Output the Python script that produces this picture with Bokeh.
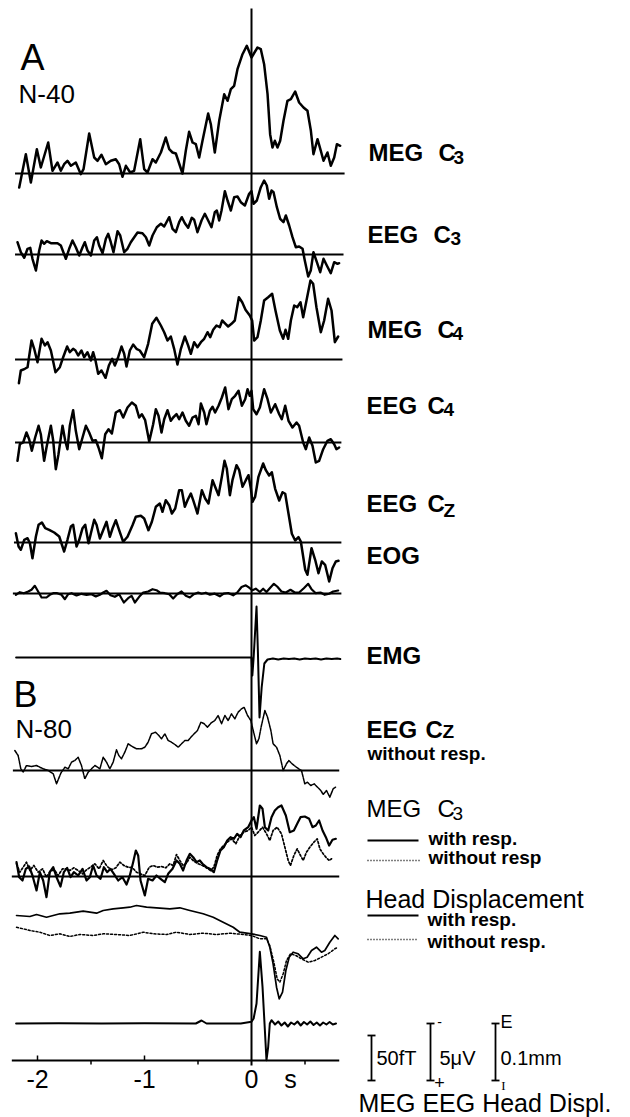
from bokeh.plotting import figure
from bokeh.models import Range1d, ColumnDataSource
from bokeh.embed import file_html
from bokeh.resources import INLINE
from bokeh.core.properties import value

# ---------------------------------------------------------------------------
# DATA  (time: ms relative to response onset; values: deflection in plot
# units, upward positive -- 45 units = 50 fT, 57 units = 5 uV / 0.1 mm)
# ---------------------------------------------------------------------------
meg_c3_a_t = [-2171, -2109, -2062, -2006, -1969, -1900, -1860, -1813, -1782, -1751,
              -1720, -1688, -1642, -1595, -1570, -1517, -1470, -1439, -1402, -1361,
              -1315, -1268, -1237, -1206, -1174, -1134, -1097, -1040, -1003, -972,
              -925, -894, -847, -801, -769, -738, -707, -645, -614, -583,
              -551, -520, -489, -458, -405, -380, -343, -302, -255, -224,
              -193, -162, -131, -84, -44, 0, 56, 87, 118, 150,
              174, 196, 218, 243, 268, 299, 336, 368, 408, 445,
              486, 523, 555, 579, 617, 648, 673, 710, 741, 773,
              798, 829]
meg_c3_a_v = [-14, 19.3, -9, 24.3, 6, 31, 2.7, 11, 2.7, 9.3,
              12.7, 7.7, 11, -0.7, 4.3, 40, 16, 12.7, 18.7, 9.3,
              12.7, 14.3, 9.3, -3.3, 7.7, 1, 2.7, 34.3, 4.3, 1,
              14.3, 11, 21, 36, 24.3, 21, 20, 0, 22.7, 41.7,
              31, 29.3, 16, 32.7, 60, 49.3, 21, 52.7, 79.3, 72.7,
              84.3, 87.7, 104.3, 119.3, 127.7, 116, 126, 124.3, 109.3, 79.3,
              39.3, 26, 32.7, 26, 32.7, 52.7, 72.7, 74.3, 82, 71,
              66, 62.7, 42.7, 19.3, 34.3, 22.7, 12.7, 21, 7.7, 16,
              29.3, 27.7]

eeg_c3_a_t = [-2187, -2156, -2124, -2093, -2068, -2047, -2015, -1984, -1962, -1938,
              -1913, -1875, -1813, -1782, -1735, -1704, -1673, -1642, -1610, -1579,
              -1558, -1533, -1501, -1470, -1445, -1424, -1392, -1361, -1339, -1315,
              -1290, -1252, -1227, -1190, -1159, -1128, -1096, -1065, -1019, -987,
              -956, -925, -885, -847, -816, -769, -738, -707, -676, -651,
              -623, -592, -558, -536, -505, -467, -436, -405, -374, -343,
              -324, -302, -280, -249, -224, -193, -162, -131, -100, -62,
              -22, 0, 19, 50, 87, 118, 143, 165, 187, 206,
              237, 268, 299, 321, 352, 383, 414, 445, 477, 498,
              530, 554, 579, 611, 642, 673, 704, 741, 773, 804,
              819]
eeg_c3_a_v = [12.3, 2.3, -3.3, 5.7, 6.7, -4.3, -16, 4, 14, 10.7,
              13.3, 11.3, 11.3, 9, -4.3, 5.7, 14, 7.3, -1, 7.3,
              12.3, 4, -1, 14, 17.3, 9, 1.3, 15.7, 20.7, 12.3,
              2.3, 23.3, 19, 2.3, 5.7, 12.3, 17.3, 22, 21.3, 17.3,
              9, 19, 27.3, 30.7, 28, 37.3, 25.7, 22.3, 32.3, 37.3,
              31.3, 26.7, 36.7, 34.7, 22.3, 34, 40.7, 34, 27.3, 42.3,
              44, 34, 44, 63.3, 54, 44, 57.3, 58, 52.3, 49,
              60.7, 63.3, 50.7, 54, 67.3, 74, 69, 55.7, 64, 62.3,
              47.3, 35.7, 32.3, 39, 29, 17.3, 7.3, 8, 5.7, -6,
              -22, -16, 2.3, -7.7, -17.7, -4.3, -11, -18.7, -7.7, -9.3,
              -8.7]

meg_c4_a_t = [-2174, -2156, -2118, -2093, -2056, -2031, -2000, -1962, -1931, -1906,
              -1875, -1832, -1791, -1760, -1723, -1698, -1667, -1645, -1620, -1589,
              -1564, -1533, -1501, -1480, -1458, -1433, -1402, -1364, -1333, -1302,
              -1277, -1246, -1215, -1190, -1168, -1137, -1106, -1075, -1044, -1003,
              -966, -928, -888, -847, -816, -785, -754, -723, -692, -660,
              -623, -592, -567, -536, -505, -473, -442, -411, -386, -358,
              -327, -296, -274, -243, -218, -187, -156, -118, -87, -56,
              -16, 6, 25, 56, 87, 118, 156, 193, 224, 265,
              296, 318, 343, 368, 399, 427, 458, 483, 514, 551,
              576, 607, 648, 679, 716, 748, 779, 810]
meg_c4_a_v = [-23.7, -11, -9.3, -7.7, 19, 10.7, -2.7, 20.7, 14, 17.3,
              9, -12.7, -7.7, 2.3, 13, 7.3, 10.7, 9, 4, 9,
              2.3, 7.3, -1, 7.3, -1, -14.3, -11, -18.3, -6, 0.7,
              -6, 2.3, 13, 5.7, -7, 9, 15, 10.7, 9, 2.3,
              15.7, 35.7, 41.7, 34, 27.3, 19, 23, 10.7, -5, 10.7,
              23, 14, 5.7, 17.3, 12.3, 17.3, 20.7, 27.3, 22.3, 29.7,
              34, 32.3, 39, 35.7, 33, 35.7, 39, 62.3, 57.3, 49.7,
              44, 39, 19, 22.3, 39, 59, 62.3, 65.7, 49, 29,
              20.7, 29.7, 20.7, 39, 54, 52.3, 57.3, 42.3, 59, 79,
              75.7, 52.3, 27.3, 39, 60.7, 49, 17.3, 23]

eeg_c4_a_t = [-2187, -2165, -2134, -2103, -2078, -2053, -2022, -1990, -1969, -1938,
              -1916, -1875, -1853, -1829, -1804, -1766, -1741, -1720, -1698, -1667,
              -1642, -1610, -1579, -1548, -1517, -1486, -1455, -1430, -1399, -1367,
              -1336, -1305, -1268, -1230, -1199, -1159, -1118, -1081, -1050, -1025,
              -994, -956, -919, -894, -869, -841, -816, -785, -754, -732,
              -701, -676, -645, -614, -583, -551, -520, -495, -473, -442,
              -421, -389, -364, -340, -308, -277, -246, -215, -184, -153,
              -121, -90, -59, -37, -16, 0, 16, 47, 78, 118,
              150, 181, 221, 259, 283, 315, 346, 383, 421, 445,
              483, 508, 539, 570, 601, 632, 670, 710, 741, 773,
              794, 819]
eeg_c4_a_v = [-18.3, -1.7, 0, 10, 3.3, -8.3, 5, 16.7, 8.3, -18.3,
              -5, 16.7, 1.7, -26.7, -11.7, 16.7, 1.7, -6.7, 16.7, 32.3,
              11.7, -6.7, 5, 16.7, 10, 1.7, 2.3, -5, -15.7, 8.3,
              13.3, 9, 30, 32.3, 25, 35, 40, 36.7, 25, 28.3,
              22.3, 1, 18.3, 33.3, 26.7, 10, 23.3, 32.3, 21.7, 25,
              28.3, 23.3, 30, 21.7, 16.7, 25, 26.7, 18.3, 39, 30,
              18.3, 31.7, 35.7, 30, 36.7, 45, 55, 33.3, 43.3, 46.7,
              51.7, 36.7, 43.3, 53.3, 46.7, 51.7, 33.3, 28.3, 35, 53.3,
              43.3, 30, 38.3, 28.3, 23.3, 36.7, 21.7, 15, 20, 16.7,
              0, -6.7, 5, -3.3, -20, -18.3, -6.7, 1.7, 3.3, -1.7,
              -6.7, -5]

eeg_cz_a_t = [-2202, -2177, -2156, -2124, -2093, -2071, -2047, -2015, -1990, -1959,
              -1928, -1891, -1844, -1797, -1751, -1720, -1688, -1667, -1635, -1610,
              -1579, -1554, -1523, -1501, -1470, -1448, -1417, -1392, -1355, -1324,
              -1299, -1268, -1237, -1199, -1159, -1112, -1081, -1034, -1003, -963,
              -931, -894, -857, -832, -801, -769, -744, -713, -676, -651,
              -623, -598, -567, -545, -505, -464, -433, -402, -364, -340,
              -308, -277, -252, -231, -202, -178, -140, -115, -84, -53,
              -28, -6, 9, 34, 65, 109, 134, 165, 190, 221,
              259, 290, 315, 346, 377, 408, 439, 461, 502, 523,
              561, 595, 626, 657, 688, 726, 757, 788, 813]
eeg_cz_a_v = [9.3, -4, -7.3, 2.7, 4.3, -0.7, -15.7, 6, 17.7, 20,
              14.3, 12.7, 10, 6, -9, 2.7, 16, 17.7, -4, 2.7,
              14.3, 17.7, -0.7, 9.3, 22.7, 17.7, 4, 10.7, 20.7, 5.7,
              14, 22.3, 12.3, 0.7, 5.7, 17.3, 25.7, 26.7, 24, 12.3,
              20.7, 35.7, 39, 30.7, 42.3, 37.3, 29, 34, 52.3, 52.3,
              35.7, 42.3, 49, 42.3, 29, 52.3, 44, 39, 62.3, 55.7,
              47.3, 65.7, 81.7, 74, 47.3, 62.3, 77.3, 72.3, 55.7, 62.3,
              67.3, 54, 40.7, 45.7, 65.7, 79, 72.3, 67, 70.3, 53.7,
              42, 50.3, 48.7, 28.7, 8.7, 2, 5.3, 1, -27.3, -32.3,
              -5.7, -17.3, -30.7, -19, -22.3, -39, -25.7, -19, -18.3]

eog_t = [-2202, -2165, -2128, -2087, -2056, -2025, -1994, -1962, -1916, -1885,
         -1853, -1816, -1776, -1744, -1713, -1682, -1635, -1589, -1542, -1495,
         -1455, -1417, -1386, -1355, -1318, -1277, -1237, -1193, -1153, -1121,
         -1090, -1050, -1012, -966, -925, -888, -857, -810, -769, -732,
         -695, -654, -614, -576, -539, -498, -467, -427, -389, -343,
         -296, -259, -218, -171, -134, -93, -53, -22, 9, 40,
         78, 109, 140, 171, 209, 240, 280, 321, 364, 405,
         445, 489, 530, 561, 601, 645, 685, 726, 763, 810]
eog_v = [-1.3, 1.3, 0.3, 2, 3.7, 7.7, 2, -4, -4, -1.3,
         0.3, 0.3, -1.3, -5.7, -0.7, 0.3, -2, -0.3, -1.3, -0.7,
         -3, -1.3, 1, 2.7, -1.7, -3.3, -0.7, -9, -4.7, -2.3,
         -9, -3.3, 1, 2, 4.3, 3.3, 1, 0.3, -0.7, -5,
         -0.7, 2, -2.3, -4, -0.7, 1, -0.2, 0.8, -1.2, -0.2,
         -2.8, -0.2, 0.5, -1.8, 0.8, 6.5, 8.2, 5.8, 3.2, 4.8,
         1.5, 4.8, 1.5, 5.3, 9.7, 7, 2, 1, 3.7, 1,
         1, 5.3, 9.7, 4.3, 0.3, 1, -1.3, -0.3, 2, 3]

emg_a_t = [-2200, -10, 0, 8, 20, 47, 60, 75, 95, 120,
           150, 200, 250, 300, 350, 400, 450, 500, 550, 600,
           650, 700, 750, 800, 830]
emg_a_v = [0, 0, 0, -18, 0, 51, 5, -60, -30, -6,
           -2, -1, -2, -1, -1.5, -1, -2, -1, -1.5, -1,
           -2, -1, -1.5, -1, -1.5]

eeg_cz_b_t = [-2212, -2181, -2156, -2134, -2103, -2056, -2009, -1978, -1947, -1900,
              -1853, -1822, -1782, -1744, -1713, -1682, -1651, -1620, -1589, -1558,
              -1526, -1495, -1464, -1417, -1386, -1355, -1324, -1293, -1262, -1240,
              -1215, -1184, -1153, -1115, -1075, -1028, -997, -966, -935, -897,
              -866, -841, -810, -779, -748, -716, -685, -654, -623, -592,
              -567, -536, -505, -473, -442, -411, -380, -343, -312, -280,
              -249, -218, -187, -156, -125, -93, -69, -37, -6, 16,
              47, 69, 93, 125, 150, 181, 202, 234, 265, 296,
              327, 349, 380, 411, 442, 467, 498, 523, 554, 586,
              617, 648, 670, 701, 732, 763, 785]
eeg_cz_b_v = [20, 15, 1.7, -1.7, 5, 4, 5, 3.3, 1.7, 0,
              -3.3, -13.3, -2.7, 3.3, 1.7, 8.3, 10, 13.3, 5, -8.3,
              -1.7, 1.7, 5, 1.7, 13.3, 8.3, 1.7, 8.3, 20.7, 15,
              11.7, 18.3, 26.7, 24, 21.7, 21.7, 23.3, 28.3, 36.7, 38.3,
              35, 31.7, 36.7, 30, 28.3, 26, 23.3, 26.7, 30, 30,
              33.3, 36.7, 40, 48.3, 46.7, 43.3, 47.3, 50, 55, 46.7,
              55, 50, 56.7, 51.7, 58.3, 61.7, 63.3, 55, 50, 40,
              26.7, 31.7, 45, 60, 53.3, 40, 26.7, 23.3, 15, 0,
              6.7, 10, 6.7, 4, 1.7, 0, -13.3, -11.7, -15, -13.3,
              -16.7, -20, -24, -20, -26.7, -18.3, -16.7]

meg_c3_b_with_t = [-2196, -2171, -2140, -2109, -2078, -2047, -2009, -1978, -1947, -1916,
                   -1885, -1853, -1822, -1785, -1754, -1723, -1691, -1660, -1620, -1579,
                   -1542, -1511, -1480, -1448, -1411, -1380, -1349, -1318, -1286, -1246,
                   -1206, -1168, -1137, -1106, -1081, -1059, -1037, -997, -966, -925,
                   -888, -850, -810, -779, -738, -701, -670, -639, -607, -576,
                   -545, -514, -483, -458, -421, -389, -352, -321, -290, -259,
                   -227, -196, -165, -134, -103, -72, -31, 0, 22, 47,
                   78, 103, 125, 156, 187, 218, 249, 280, 321, 358,
                   396, 427, 458, 498, 539, 570, 601, 632, 664, 695,
                   726, 757, 788]
meg_c3_b_with_v = [14.3, -0.7, -4, 7.7, 10, 1, -14, 4.3, -4, -20.7,
                   4.3, 9.3, -0.7, -10, 4.3, 8.7, -0.7, 4.3, 1, 7.7,
                   -4, -0.7, 11, 1, -2.3, 9.3, 4.3, 7.7, 2.7, -4,
                   -0.7, -8, 1, 14.3, 26, 21, -4, -19, -2.3, -4,
                   1, -2.3, -5.7, 2.7, 7.7, 16, 12.7, 6, 16, 22.7,
                   19.3, 14.3, 16, 12.7, 9.3, 7.7, 4.3, 16, 26, 29.3,
                   36, 39.3, 37.7, 42.7, 39.3, 46, 49.3, 56, 59.3, 47.7,
                   71, 67.7, 49.3, 46, 59.3, 66, 69.3, 71, 61, 44.3,
                   46, 52.7, 59.3, 60, 57.7, 49.3, 51, 56, 46, 39.3,
                   31, 36.7, 37.7]

meg_c3_b_without_t = [-2196, -2165, -2134, -2103, -2071, -2034, -1994, -1953, -1916, -1878,
                      -1838, -1807, -1766, -1729, -1698, -1660, -1620, -1579, -1542, -1505,
                      -1464, -1424, -1386, -1349, -1308, -1268, -1230, -1193, -1153, -1112,
                      -1075, -1037, -997, -956, -919, -882, -841, -801, -763, -732,
                      -701, -670, -639, -607, -576, -539, -498, -458, -421, -383,
                      -352, -321, -290, -259, -227, -187, -146, -109, -72, -31,
                      0, 31, 62, 103, 140, 171, 202, 240, 280, 312,
                      343, 364, 396, 427, 458, 483, 514, 545, 583, 614,
                      639, 670, 695, 726, 748]
meg_c3_b_without_v = [12.7, 4.3, 9.3, 14.3, 6, 11, 4.3, 7.7, -0.7, 6,
                      6, 1, 7.7, 7.7, 6, 8.7, 6, 2.7, 6.7, 9.3,
                      12.7, 7.7, 16, 10, 6.7, 8.7, 14.3, 11, 9.3, 8.7,
                      4.3, 2.7, 1, 9.3, 11, 9.3, 10, 8.7, 12.7, 11,
                      22, 16, 11, 13.3, 19.3, 15.3, 12.7, 11, 8.7, 6,
                      9.3, 21, 27.7, 31, 34.3, 37.7, 32.7, 41, 44.3, 46,
                      49.3, 41, 44.3, 49.3, 42.7, 36, 46, 49.3, 42.7, 29.3,
                      16, 11, 21, 27.7, 21, 16, 24.3, 29.3, 34.3, 37.7,
                      27.7, 22.7, 19.3, 16, 17.7]

head_with_t = [-2196, -2071, -2009, -1916, -1791, -1698, -1573, -1448, -1386, -1293,
               -1199, -1137, -1075, -981, -888, -763, -670, -576, -452, -358,
               -265, -171, -109, 0, 78, 140, 171, 202, 234, 259,
               290, 321, 352, 389, 436, 483, 520, 561, 607, 654,
               685, 732, 779, 810]
head_with_v = [15, 14, 16, 13.3, 16.7, 17.3, 19.3, 17.3, 20, 21.7,
               22.7, 23.3, 25, 23.3, 22.7, 21.7, 22.7, 20, 16.7, 13.3,
               8.3, 3.3, -1.7, -3.3, -5, -6.7, -16.7, -33.3, -56.7, -68.3,
               -61.7, -40, -26.7, -21.7, -23.3, -28.3, -26.7, -20, -16.7, -21.7,
               -20, -11.7, -5, -8.3]

head_without_t = [-2196, -2071, -1978, -1885, -1791, -1698, -1604, -1480, -1386, -1262,
                  -1137, -1012, -919, -794, -701, -576, -452, -327, -202, -78,
                  0, 78, 140, 171, 209, 240, 265, 296, 327, 364,
                  414, 467, 530, 592, 654, 716, 779, 810]
head_without_v = [3.3, 0, -1.7, -5, -3.3, -6, -4, -5, -3.3, -4,
                  -5, -1.7, -3.3, -4, -1.7, -4, -2.7, -4, -2.7, -4,
                  -5, -8.3, -8.3, -15, -31.7, -48.3, -51.7, -43.3, -30, -23.3,
                  -25, -28.3, -31.7, -30, -26.7, -23.3, -18.3, -16.7]

emg_b_t = [-2200, -1800, -1400, -1000, -520, -467, -420, -100, 0, 20,
           47, 78, 103, 125, 140, 156, 171, 187, 220, 250,
           280, 310, 340, 370, 400, 430, 460, 490, 520, 550,
           580, 610, 640, 670, 700, 730, 760, 790]
emg_b_v = [0, 0.3, 0, 0.3, 0, 3, 0, 0, 1.7, 5,
           20, 71.7, 36.7, -6.7, -36.7, -23.3, 0, 3.3, -1, 2,
           -2, 1, -3, 1, -1, 2, -2, 1.5, -1, 2,
           -1.5, 1, -2, 1, -1, 1.5, -1, 0]

tick_values = [-2, -1, 0]
tick_labels = ["-2", "-1", "0"]
minor_ticks = [-1.5, -0.5, 0.5]
scale_bar_units = [45, 57, 57]          # 50 fT, 5 uV, 0.1 mm in plot units

# ---------------------------------------------------------------------------
# LAYOUT (page pixels)
# ---------------------------------------------------------------------------
W, H = 630, 1117
PXS = 107.0      # pixels per second
X0 = 251.0       # pixel column of t = 0


def sx(px):
    return (px - X0) / PXS


p = figure(width=W, height=H,
           x_range=Range1d(sx(0), sx(W)), y_range=Range1d(H, 0),
           output_backend="svg", toolbar_location=None,
           x_axis_location=None, y_axis_location=None,
           min_border=0, min_border_left=0, min_border_right=0,
           min_border_top=0, min_border_bottom=0)
p.grid.visible = False
p.outline_line_color = None
p.background_fill_color = "white"
p.border_fill_color = "white"

FONT = "Liberation Sans"


def trace(t, v, base, width=2.5, dash="solid"):
    assert len(t) == len(v), (len(t), len(v))
    src = ColumnDataSource(dict(x=[ti / 1000.0 for ti in t],
                                y=[base - vi for vi in v]))
    p.line("x", "y", source=src, line_color="black", line_width=width,
           line_dash=dash, line_join="round", line_cap="round")


def label(px, base_y, s, size, style="normal", align="left", font=FONT, mid=False):
    # base_y: text baseline in page pixels (or the glyph centre if mid=True)
    y = base_y if mid else base_y - 0.35 * size
    p.text(x=[sx(px)], y=[y], text=[s], text_font=value(font),
           text_font_size=f"{size}px", text_font_style=style,
           text_align=align, text_baseline="middle", text_color="black")


# baselines
base_rows = [(173, -2.21, 0.87), (254, -2.21, 0.86), (359, -2.21, 0.85),
             (442, -2.21, 0.84), (542, -2.22, 0.84), (593, -2.23, 0.84),
             (770, -2.23, 0.82), (876, -2.24, 0.82)]
p.segment(x0=[r[1] for r in base_rows], x1=[r[2] for r in base_rows],
          y0=[r[0] for r in base_rows], y1=[r[0] for r in base_rows],
          line_color="black", line_width=1.9)

# vertical line at t = 0
p.segment(x0=[0], x1=[0], y0=[8], y1=[1065], line_color="black", line_width=2)

# traces - part A
trace(meg_c3_a_t, meg_c3_a_v, 173)
trace(eeg_c3_a_t, eeg_c3_a_v, 254)
trace(meg_c4_a_t, meg_c4_a_v, 359)
trace(eeg_c4_a_t, eeg_c4_a_v, 442)
trace(eeg_cz_a_t, eeg_cz_a_v, 542)
trace(eog_t, eog_v, 593, width=2.2)
trace(emg_a_t, emg_a_v, 657, width=2.0)

# traces - part B
trace(eeg_cz_b_t, eeg_cz_b_v, 770, width=1.5, dash="3 1")
trace(meg_c3_b_without_t, meg_c3_b_without_v, 876, width=1.7, dash="2 2")
trace(meg_c3_b_with_t, meg_c3_b_with_v, 876, width=2.2)
trace(head_without_t, head_without_v, 930, width=1.5, dash="2 2")
trace(head_with_t, head_with_v, 930, width=1.7)
trace(emg_b_t, emg_b_v, 1023, width=2.0)

# time axis
p.segment(x0=[-2.24], x1=[0.82], y0=[1060], y1=[1060], line_color="black", line_width=1.9)
p.segment(x0=tick_values[:2], x1=tick_values[:2], y0=[1060, 1060], y1=[1055, 1055],
          line_color="black", line_width=1.5)
p.segment(x0=minor_ticks, x1=minor_ticks, y0=[1060] * 3, y1=[1064] * 3,
          line_color="black", line_width=1.5)
p.text(x=tick_values, y=[1087 - 0.35 * 25] * 3, text=tick_labels, text_font=value(FONT),
       text_font_size="25px", text_align="center", text_baseline="middle",
       text_color="black")
label(290, 1087, "s", 25, align="center")

# panel letters
label(20, 70, "A", 36)
label(18, 103, "N-40", 26)
label(13, 707, "B", 36)
label(15, 738, "N-80", 26)

# channel labels (A)
for (x1, x2, x3, yb, ys, a, sub) in [
        (368, 438, 453, 160, 164, "MEG", "3"),
        (367, 433, 450, 242, 245, "EEG", "3"),
        (367, 437, 452, 337, 340, "MEG", "4"),
        (366, 427, 443, 413, 416, "EEG", "4"),
        (366, 427, 443, 511, 517, "EEG", "Z")]:
    label(x1, yb, a, 24, "bold")
    label(x2, yb, "C", 24, "bold")
    label(x3, ys, sub, 19, "bold")
label(366, 563, "EOG", 24, "bold")
label(366, 663, "EMG", 24, "bold")

# channel labels (B)
label(366, 737, "EEG", 24, "bold")
label(425, 737, "C", 24, "bold")
label(442, 738, "Z", 19, "bold")
label(367, 760, "without resp.", 19, "bold")

label(366, 816, "MEG", 24)
label(437, 816, "C", 24)
label(452, 820, "3", 19)
p.segment(x0=[sx(367), sx(367)], x1=[sx(418), sx(420)], y0=[840, 860], y1=[840, 860],
          line_color="black", line_width=[1.8, 1.3], line_dash=["solid", "1 2"])
label(428, 845, "with resp.", 19, "bold")
label(428, 864, "without resp", 19, "bold")

label(365, 907, "Head Displacement", 25)
p.segment(x0=[sx(367), sx(367)], x1=[sx(418), sx(418)], y0=[915, 939], y1=[915, 939],
          line_color="black", line_width=[1.8, 1.3], line_dash=["solid", "1 2"])
label(427, 926, "with resp.", 19, "bold")
label(427, 948, "without resp.", 19, "bold")

# scale bars
bars = [(371, 1080), (430, 1080), (495, 1080)]
bx = [b[0] for b in bars]
by0 = [b[1] for b in bars]
by1 = [b[1] - h for b, h in zip(bars, scale_bar_units)]
p.segment(x0=[sx(x) for x in bx], x1=[sx(x) for x in bx], y0=by0, y1=by1,
          line_color="black", line_width=1.8)
p.segment(x0=[sx(x - 4) for x in bx] * 2, x1=[sx(x + 4) for x in bx] * 2,
          y0=by0 + by1, y1=by0 + by1, line_color="black", line_width=1.8)
label(376, 1064, "50fT", 20)
label(439, 1064, "5\u03bcV", 20)
label(500, 1064, "0.1mm", 20)
label(439, 1021, "-", 14, align="center", mid=True)
label(439, 1082, "+", 18, align="center", mid=True)
label(500, 1028, "E", 18)
label(503, 1085, "I", 13, align="center", font="Liberation Serif", mid=True)
label(358, 1111, "MEG EEG Head Displ.", 25)

open("out.html", "w").write(file_html(p, INLINE))
